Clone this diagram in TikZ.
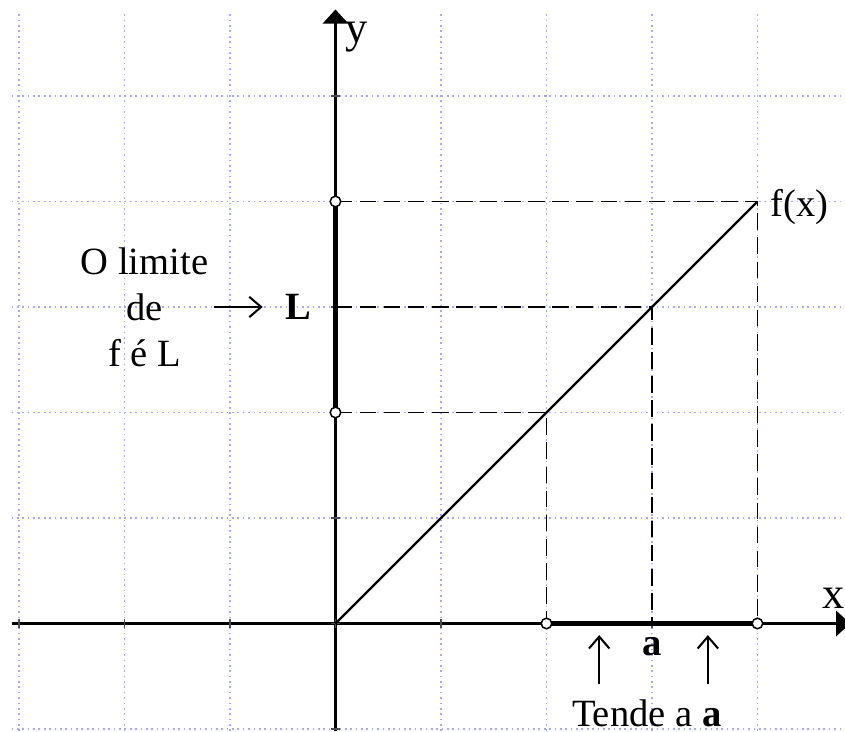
\documentclass[tikz,border=0pt]{standalone}
\usepackage{fontspec}
\setmainfont{Liberation Serif}
\usetikzlibrary{arrows.meta, positioning}
\newcommand{\hole}[2]{%
  \draw[line width=0.4pt, fill=white] (#1,#2) circle (0.05);}
\tikzset{
  gridline/.style={densely dotted, line width=0.45pt, color=blue!35},
  axisline/.style={line width=0.6pt, -{Triangle[width=6.8pt, length=3.8pt]}},
  guide/.style={line width=0.4pt, dash pattern=on 4.5pt off 2pt},
  band/.style={line width=1.5pt},
  tick/.style={line width=0.5pt, color=black!70},
  pointer/.style={line width=0.55pt, -{Straight Barb[length=3.2pt, width=5.5pt]}},
  lbl/.style={font=\fontsize{10.4}{12.4}\selectfont, inner sep=0pt}
}
\begin{document}
\begin{tikzpicture}
\useasboundingbox (-3.18,-1.02) rectangle (4.83,5.91);
% grid
\foreach \i in {-3,...,4} \draw[gridline] (\i,-1.02) -- (\i,5.8);
\foreach \j in {-1,...,5} \draw[gridline] (-3.07,\j) -- (4.83,\j);
% axes
\draw[axisline] (-3.07,0) -- (4.88,0);
\draw[axisline] (0,-1.02) -- (0,5.82);
\foreach \i in {-3,...,4} \draw[tick] (\i,-0.04) -- (\i,0.04);
\foreach \j in {-1,...,5} \draw[tick] (-0.04,\j) -- (0.04,\j);
\node[lbl, font=\fontsize{12}{14}\selectfont] (ylab) at (0.2,5.56) {y};
\node[lbl, font=\fontsize{12}{14}\selectfont, anchor=east] (xlab) at (4.83,0.24) {x};
% function
\coordinate (O) at (0,0);
\coordinate (F) at (4,4);
\draw[line width=0.6pt] (O) -- (F);
\node[lbl, anchor=west] (flab) at (4.12,3.95) {f(x)};
% guides
\draw[guide] (0,4) -- (F) -- (4,0);
\draw[guide] (0,3) -- (3,3) -- (3,0);
\draw[guide] (0,2) -- (2,2) -- (2,0);
% intervals
\draw[band] (0,2) -- (0,4);
\draw[band] (2,0) -- (4,0);
\hole{0}{2}
\hole{0}{4}
\hole{2}{0}
\hole{4}{0}
% limit text
\node[lbl, align=center] (lim) at (-1.81,3.0) {O limite\\de\\f é L};
\node[lbl, font=\fontsize{10.4}{12.4}\selectfont\bfseries] (L) at (-0.35,3.0) {L};
\coordinate (p0) at (-1.15,3.0);
\draw[pointer, shorten >=6pt] (p0) -- (L.west);
% tends text
\node[lbl, font=\fontsize{10.4}{12.4}\selectfont\bfseries] (A) at (3.0,-0.22) {a};
\node[lbl] (tend) at (2.95,-0.85) {Tende a \textbf{a}};
\coordinate (t1) at (2.5,-0.57);
\coordinate (t2) at (3.53,-0.57);
\draw[pointer] (t1) -- ++(0,0.46);
\draw[pointer] (t2) -- ++(0,0.46);
\end{tikzpicture}
\end{document}
